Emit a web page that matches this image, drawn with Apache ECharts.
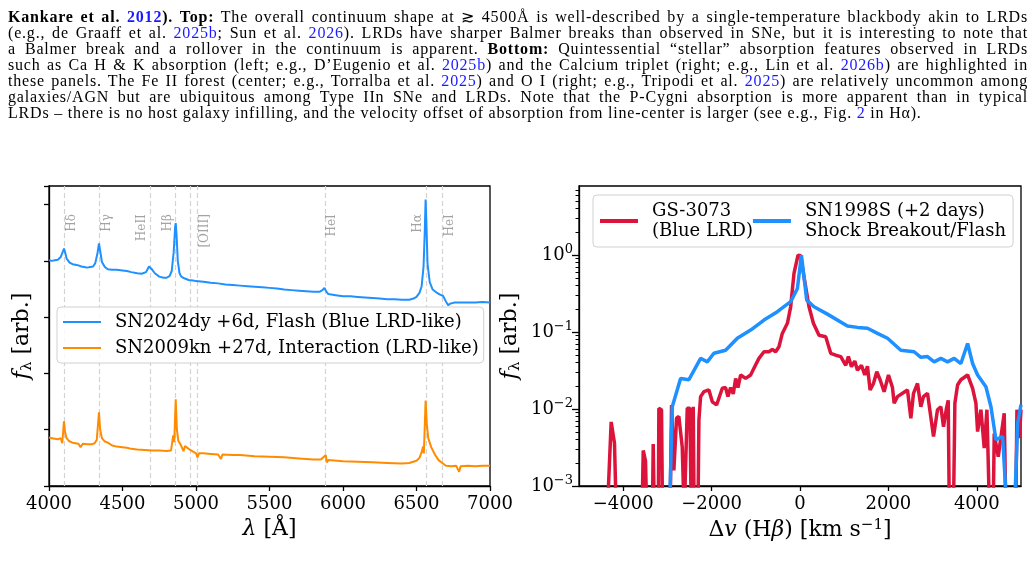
<!DOCTYPE html>
<html>
<head>
<meta charset="utf-8">
<script src="https://cdn.jsdelivr.net/npm/echarts@6/dist/echarts.min.js"></script>
<style>
  html, body { margin: 0; padding: 0; background: #fff; }
  #wrap { position: relative; width: 1034px; height: 562px; overflow: hidden; }
  #chart { position: absolute; left: 0; top: 0; width: 1034px; height: 562px; }
  #caption { position: absolute; left: 8px; top: 9px; width: 1020px; font-family: 'Liberation Serif', serif; font-size: 16px; letter-spacing: 0.8px; color: #000; }
  #caption div { height: 16px; line-height: 16px; white-space: nowrap; width: max-content; }
  #caption .c { color: #1a1aff; }
</style>
</head>
<body>
<div id="wrap">
  <div id="chart"></div>
  <div id="caption">
    <div class="j"><b>Kankare et al. <span class="c">2012</span>). Top:</b> The overall continuum shape at ≳ 4500Å is well-described by a single-temperature blackbody akin to LRDs</div>
    <div class="j">(e.g., de Graaff et al. <span class="c">2025b</span>; Sun et al. <span class="c">2026</span>). LRDs have sharper Balmer breaks than observed in SNe, but it is interesting to note that</div>
    <div class="j">a Balmer break and a rollover in the continuum is apparent. <b>Bottom:</b> Quintessential “stellar” absorption features observed in LRDs</div>
    <div class="j">such as Ca H &amp; K absorption (left; e.g., D’Eugenio et al. <span class="c">2025b</span>) and the Calcium triplet (right; e.g., Lin et al. <span class="c">2026b</span>) are highlighted in</div>
    <div class="j">these panels. The Fe II forest (center; e.g., Torralba et al. <span class="c">2025</span>) and O I (right; e.g., Tripodi et al. <span class="c">2025</span>) are relatively uncommon among</div>
    <div class="j">galaxies/AGN but are ubiquitous among Type IIn SNe and LRDs. Note that the P-Cygni absorption is more apparent than in typical</div>
    <div>LRDs – there is no host galaxy infilling, and the velocity offset of absorption from line-center is larger (see e.g., Fig. <span class="c">2</span> in Hα).</div>
  </div>
</div>
<script>
// left panel: spectra (wavelength in A, arbitrary flux)
const waveFlash = [4000, 4020, 4040, 4060, 4080, 4095, 4102, 4110, 4120, 4140, 4160, 4180, 4200, 4220, 4240, 4260, 4280, 4300, 4315, 4330, 4340, 4348, 4360, 4380, 4400, 4430, 4460, 4500, 4530, 4560, 4600, 4630, 4660, 4680, 4688, 4700, 4720, 4750, 4780, 4800, 4820, 4835, 4848, 4858, 4862, 4868, 4876, 4888, 4900, 4920, 4950, 4980, 5000, 5050, 5100, 5150, 5200, 5250, 5300, 5350, 5400, 5450, 5500, 5550, 5600, 5650, 5700, 5750, 5800, 5840, 5860, 5874, 5885, 5900, 5950, 6000, 6050, 6100, 6150, 6200, 6250, 6300, 6350, 6400, 6450, 6480, 6500, 6520, 6535, 6548, 6556, 6562, 6567, 6575, 6590, 6610, 6640, 6660, 6672, 6680, 6700, 6715, 6730, 6760, 6800, 6850, 6900, 6950, 7000]
const fluxFlash = [4.01, 4.00, 4.01, 4.02, 4.07, 4.17, 4.22, 4.15, 4.04, 3.97, 3.94, 3.93, 3.92, 3.90, 3.89, 3.88, 3.89, 3.90, 3.96, 4.14, 4.31, 4.18, 3.98, 3.89, 3.85, 3.84, 3.84, 3.83, 3.82, 3.80, 3.78, 3.77, 3.80, 3.90, 3.93, 3.85, 3.78, 3.72, 3.70, 3.70, 3.73, 3.82, 4.15, 4.60, 4.67, 4.45, 4.00, 3.78, 3.72, 3.69, 3.66, 3.65, 3.64, 3.63, 3.61, 3.60, 3.58, 3.57, 3.56, 3.55, 3.54, 3.53, 3.52, 3.51, 3.49, 3.48, 3.47, 3.46, 3.45, 3.45, 3.48, 3.52, 3.46, 3.41, 3.39, 3.37, 3.37, 3.36, 3.35, 3.34, 3.33, 3.32, 3.32, 3.31, 3.31, 3.33, 3.36, 3.43, 3.55, 3.90, 4.50, 5.09, 4.70, 3.95, 3.62, 3.49, 3.43, 3.40, 3.41, 3.38, 3.28, 3.21, 3.24, 3.26, 3.26, 3.26, 3.26, 3.27, 3.26]

const waveInter = [4000, 4020, 4040, 4060, 4080, 4090, 4096, 4102, 4108, 4118, 4135, 4160, 4180, 4200, 4215, 4230, 4260, 4290, 4310, 4325, 4332, 4340, 4348, 4360, 4380, 4400, 4430, 4460, 4500, 4530, 4560, 4600, 4650, 4700, 4750, 4800, 4830, 4845, 4852, 4862, 4870, 4880, 4895, 4905, 4915, 4925, 4950, 4980, 5000, 5010, 5020, 5050, 5100, 5150, 5170, 5180, 5250, 5300, 5400, 5500, 5600, 5700, 5800, 5850, 5883, 5890, 5900, 6000, 6100, 6200, 6300, 6400, 6450, 6500, 6520, 6535, 6545, 6550, 6562, 6570, 6580, 6600, 6625, 6650, 6680, 6700, 6740, 6770, 6790, 6800, 6850, 6900, 6950, 7000]
const fluxInter = [0.86, 0.85, 0.84, 0.83, 0.85, 0.76, 0.95, 1.15, 0.98, 0.86, 0.80, 0.77, 0.76, 0.75, 0.69, 0.75, 0.74, 0.74, 0.76, 0.82, 0.80, 1.31, 1.00, 0.85, 0.79, 0.77, 0.72, 0.70, 0.69, 0.68, 0.66, 0.65, 0.64, 0.63, 0.63, 0.62, 0.63, 0.90, 0.78, 1.54, 1.00, 0.80, 0.74, 0.75, 0.62, 0.71, 0.66, 0.61, 0.58, 0.51, 0.58, 0.58, 0.57, 0.56, 0.48, 0.56, 0.55, 0.55, 0.53, 0.52, 0.51, 0.49, 0.47, 0.47, 0.55, 0.42, 0.46, 0.44, 0.43, 0.42, 0.41, 0.40, 0.41, 0.45, 0.50, 0.60, 0.70, 0.58, 1.52, 1.10, 0.85, 0.69, 0.56, 0.46, 0.40, 0.36, 0.35, 0.36, 0.25, 0.35, 0.36, 0.35, 0.36, 0.36]

// emission line ids
const lineWaves = [4102, 4340, 4686, 4861, 4959, 5007, 5876, 6563, 6678]
const labelWaves = [4102, 4340, 4686, 4861, 5007, 5876, 6563, 6678]
const labelNames = ['Hδ', 'Hγ', 'HeII', 'Hβ', '[OIII]', 'HeI', 'Hα', 'HeI']
const labelSides = ['right', 'right', 'left', 'left', 'right', 'right', 'left', 'right']

// right panel: H-beta velocity profiles
const velLRD = [-4500, -4362, -4272, -4197, -4150, -3600, -3575, -3547, -3495, -3460, -3380, -3340, -3321, -3295, -3230, -3205, -3193, -3133, -3110, -3080, -3060, -3040, -2940, -2906, -2854, -2793, -2741, -2664, -2620, -2575, -2551, -2491, -2460, -2440, -2415, -2395, -2310, -2287, -2249, -2174, -2061, -1984, -1887, -1758, -1683, -1631, -1570, -1510, -1456, -1404, -1343, -1230, -1117, -1042, -929, -815, -702, -626, -551, -476, -400, -285, -211, -136, -45, 15, 91, 204, 303, 430, 582, 695, 808, 922, 1035, 1095, 1164, 1239, 1300, 1390, 1465, 1526, 1586, 1662, 1737, 1812, 1903, 2002, 2092, 2130, 2205, 2319, 2432, 2508, 2568, 2659, 2734, 2794, 2885, 3021, 3111, 3187, 3247, 3308, 3353, 3380, 3470, 3504, 3565, 3640, 3792, 3905, 3980, 4018, 4093, 4168, 4229, 4290, 4370, 4394, 4485, 4620, 4660, 4880, 4908, 4961, 5000]
const fluxLRD = [0.0003, 0.0004, 0.0068, 0.0036, 0.0003, 0.0003, 0.0004, 0.0029, 0.0021, 0.0003, 0.0003, 0.0004, 0.0035, 0.0004, 0.0003, 0.0005, 0.0102, 0.0098, 0.0004, 0.0004, 0.0009, 0.0004, 0.0004, 0.0113, 0.0016, 0.0076, 0.008, 0.0032, 0.0004, 0.0004, 0.0102, 0.0102, 0.0004, 0.0004, 0.0107, 0.0004, 0.0004, 0.0072, 0.0145, 0.0168, 0.0177, 0.0124, 0.0113, 0.0186, 0.019, 0.0145, 0.019, 0.0157, 0.025, 0.019, 0.0277, 0.025, 0.0277, 0.0338, 0.0455, 0.0555, 0.0555, 0.0596, 0.0555, 0.0645, 0.096, 0.13, 0.213, 0.58, 1.0, 0.98, 0.52, 0.213, 0.13, 0.091, 0.087, 0.053, 0.05, 0.048, 0.037, 0.048, 0.0355, 0.042, 0.032, 0.037, 0.0277, 0.036, 0.0177, 0.0215, 0.0305, 0.024, 0.0168, 0.0277, 0.019, 0.0119, 0.0145, 0.016, 0.0177, 0.0076, 0.016, 0.0215, 0.0107, 0.0145, 0.016, 0.0044, 0.0098, 0.0107, 0.0059, 0.0098, 0.013, 0.0004, 0.0004, 0.0119, 0.0205, 0.024, 0.0277, 0.0186, 0.0119, 0.0051, 0.0098, 0.0031, 0.0098, 0.0004, 0.0004, 0.0048, 0.0024, 0.0088, 0.0004, 0.0004, 0.0098, 0.0042, 0.0098]

const velSN = [-2960, -2890, -2702, -2514, -2249, -2098, -1948, -1683, -1418, -1117, -815, -512, -211, -59, 32, 152, 317, 620, 1073, 1300, 1527, 1753, 1980, 2281, 2582, 2734, 2885, 3035, 3187, 3338, 3488, 3640, 3792, 3905, 4018, 4206, 4320, 4433, 4584, 4659, 4700, 4840, 4924, 5000]
const fluxSN = [0.0003, 0.0107, 0.025, 0.024, 0.0456, 0.041, 0.053, 0.058, 0.083, 0.106, 0.143, 0.184, 0.248, 0.369, 1.0, 0.26, 0.213, 0.171, 0.12, 0.115, 0.112, 0.096, 0.083, 0.058, 0.0555, 0.047, 0.048, 0.041, 0.0455, 0.041, 0.0455, 0.039, 0.071, 0.039, 0.0277, 0.0195, 0.0107, 0.004, 0.0044, 0.0008, 0.0003, 0.0003, 0.0065, 0.0114]

// ticks
const velTicks = [-4000, -2000, 0, 2000, 4000]
const logMajor = [0.001, 0.01, 0.1, 1]
const logMinor = [0.002, 0.003, 0.004, 0.005, 0.006, 0.007, 0.008, 0.009, 0.02, 0.03, 0.04, 0.05, 0.06, 0.07, 0.08, 0.09, 0.2, 0.3, 0.4, 0.5, 0.6, 0.7, 0.8, 0.9, 2, 3, 4, 5, 6, 7]

const nameFlash = 'SN2024dy +6d, Flash (Blue LRD-like)'
const nameInter = 'SN2009kn +27d, Interaction (LRD-like)'
const nameLRD = 'GS-3073\n(Blue LRD)'
const nameSN = 'SN1998S (+2 days)\nShock Breakout/Flash'

// stretch caption lines to the full text width (justified like the paper)
document.querySelectorAll('#caption div.j').forEach((el) => {
  const spaces = (el.textContent.match(/ /g) || []).length
  const extra = 1020 - el.getBoundingClientRect().width
  el.style.wordSpacing = (extra / spaces) + 'px'
})

const zip = (a, b) => a.map((x, i) => [x, b[i]])
const serif = 'DejaVu Serif'
const supMinus = (v) => String(Math.round(Math.log10(v))).replace('-', '−')

const chart = echarts.init(document.getElementById('chart'))

const axisLine = { show: true, onZero: false, lineStyle: { color: '#000', width: 1.3 } }
const tickLbl = { color: '#000', fontFamily: serif, fontSize: 18 }
const nameStyle = {
  color: '#000',
  fontFamily: serif,
  fontSize: 22,
  rich: {
    i: { fontFamily: serif, fontStyle: 'italic', fontSize: 22 },
    sub: { fontFamily: serif, fontSize: 15, padding: [10, 0, 0, 0] },
    sup: { fontFamily: serif, fontSize: 15, padding: [0, 0, 10, 0] }
  }
}

const option = {
  animation: false,
  grid: [
    { left: 49, top: 186, width: 441, height: 300, show: true, borderColor: '#000', borderWidth: 1.3 },
    { left: 579, top: 186, width: 442, height: 300, show: true, borderColor: '#000', borderWidth: 1.3 }
  ],
  xAxis: [
    {
      gridIndex: 0,
      type: 'value',
      min: 4000,
      max: 7000,
      interval: 500,
      axisLine: axisLine,
      axisTick: { length: 5, lineStyle: { color: '#000', width: 1.3 } },
      axisLabel: { ...tickLbl, margin: 9, formatter: (v) => String(v) },
      splitLine: { show: false },
      name: '{i|λ} [Å]',
      nameLocation: 'middle',
      nameGap: 32,
      nameTextStyle: nameStyle
    },
    {
      gridIndex: 1,
      type: 'value',
      min: -5000,
      max: 5000,
      axisLine: axisLine,
      axisTick: { length: 5, customValues: velTicks, lineStyle: { color: '#000', width: 1.3 } },
      axisLabel: { ...tickLbl, margin: 9, customValues: velTicks, formatter: (v) => String(v).replace('-', '−') },
      splitLine: { show: false },
      name: 'Δ{i|v} (H{i|β}) [km s{sup|−1}]',
      nameLocation: 'middle',
      nameGap: 32,
      nameTextStyle: nameStyle
    }
  ],
  yAxis: [
    {
      gridIndex: 0,
      type: 'value',
      min: 0,
      max: 5.33,
      interval: 1,
      axisLine: axisLine,
      axisTick: { length: 5, lineStyle: { color: '#000', width: 1.3 } },
      axisLabel: { show: false },
      splitLine: { show: false },
      name: '{i|f}{sub|λ} [arb.]',
      nameLocation: 'middle',
      nameGap: 14,
      nameTextStyle: nameStyle
    },
    {
      gridIndex: 1,
      type: 'log',
      logBase: 10,
      min: 0.001,
      max: 7.9,
      position: 'left',
      axisLine: axisLine,
      axisTick: { length: 7, customValues: logMajor, lineStyle: { color: '#000', width: 1.3 } },
      axisLabel: {
        ...tickLbl,
        margin: 6,
        customValues: logMajor,
        formatter: (v) => '{b|10}{s|' + supMinus(v) + '}',
        rich: {
          b: { fontFamily: serif, fontSize: 18, color: '#000' },
          s: { fontFamily: serif, fontSize: 13, color: '#000', padding: [0, 0, 10, 0] }
        }
      },
      splitLine: { show: false },
      name: '{i|f}{sub|λ} [arb.]',
      nameLocation: 'middle',
      nameGap: 56,
      nameTextStyle: nameStyle
    },
    {
      gridIndex: 1,
      type: 'log',
      logBase: 10,
      min: 0.001,
      max: 7.9,
      position: 'left',
      offset: 0,
      axisLine: { show: false, onZero: false },
      axisTick: { length: 3.5, customValues: logMinor, lineStyle: { color: '#000', width: 1 } },
      axisLabel: { show: false },
      splitLine: { show: false }
    }
  ],
  legend: [
    {
      data: [nameFlash, nameInter],
      orient: 'vertical',
      left: 57,
      top: 307,
      z: 10,
      icon: 'rect',
      itemWidth: 38,
      itemHeight: 2,
      itemGap: 8,
      padding: [6, 5, 6, 6],
      borderColor: '#d0d0d0',
      borderWidth: 1,
      borderRadius: 4,
      backgroundColor: 'rgba(255,255,255,0.85)',
      textStyle: { fontFamily: serif, fontSize: 18, color: '#000', padding: [0, 0, 0, 9] }
    },
    {
      data: [nameLRD, nameSN],
      orient: 'horizontal',
      left: 593,
      top: 195,
      z: 10,
      icon: 'rect',
      itemWidth: 38,
      itemHeight: 4,
      itemGap: 0,
      padding: [6, 7, 6, 7],
      borderColor: '#d0d0d0',
      borderWidth: 1,
      borderRadius: 4,
      backgroundColor: 'rgba(255,255,255,0.85)',
      textStyle: { fontFamily: serif, fontSize: 18, color: '#000', lineHeight: 20, padding: [0, 0, 0, 9] }
    }
  ],
  series: [
    {
      type: 'line',
      xAxisIndex: 0,
      yAxisIndex: 0,
      data: [],
      z: 1,
      markLine: {
        silent: true,
        z: 1,
        symbol: ['none', 'none'],
        label: { show: false },
        lineStyle: { color: '#d3d3d3', type: [5, 3], width: 1.2 },
        data: lineWaves.map((w) => ({ xAxis: w }))
      }
    },
    {
      type: 'scatter',
      xAxisIndex: 0,
      yAxisIndex: 0,
      symbolSize: 1,
      itemStyle: { color: 'rgba(0,0,0,0)' },
      z: 2,
      data: labelWaves.map((w, i) => ({
        value: [w, 4.83],
        name: labelNames[i],
        label: { position: labelSides[i] }
      })),
      label: {
        show: true,
        formatter: '{b}',
        rotate: 90,
        distance: 7,
        align: 'right',
        verticalAlign: 'middle',
        color: '#8c8c8c',
        fontFamily: serif,
        fontSize: 12
      }
    },
    {
      name: nameFlash,
      type: 'line',
      xAxisIndex: 0,
      yAxisIndex: 0,
      data: zip(waveFlash, fluxFlash),
      showSymbol: false,
      color: '#1e90ff',
      lineStyle: { width: 2 },
      z: 3
    },
    {
      name: nameInter,
      type: 'line',
      xAxisIndex: 0,
      yAxisIndex: 0,
      data: zip(waveInter, fluxInter),
      showSymbol: false,
      color: '#ff8c00',
      lineStyle: { width: 2 },
      z: 3
    },
    {
      name: nameLRD,
      type: 'line',
      xAxisIndex: 1,
      yAxisIndex: 1,
      data: zip(velLRD, fluxLRD),
      showSymbol: false,
      clip: true,
      color: '#dc143c',
      lineStyle: { width: 3.5 },
      z: 3
    },
    {
      name: nameSN,
      type: 'line',
      xAxisIndex: 1,
      yAxisIndex: 1,
      data: zip(velSN, fluxSN),
      showSymbol: false,
      clip: true,
      color: '#1e90ff',
      lineStyle: { width: 3.5 },
      z: 4
    }
  ]
}

chart.setOption(option)
</script>
</body>
</html>
